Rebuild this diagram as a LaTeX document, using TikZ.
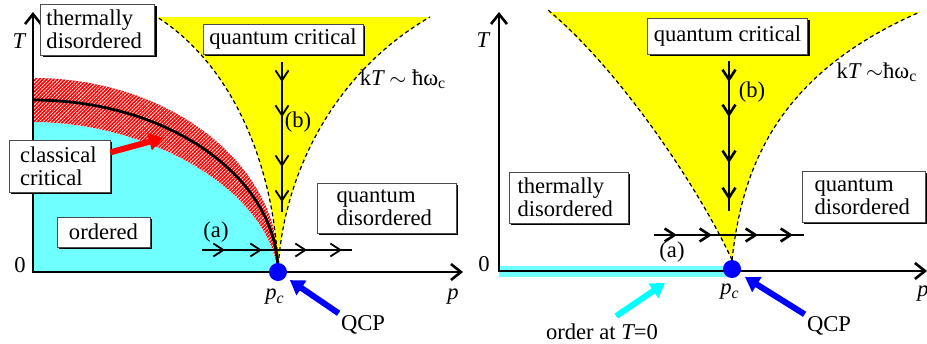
\documentclass[tikz,border=0pt]{standalone}
\usepackage{fontspec}
\setmainfont{Liberation Serif}
\usetikzlibrary{arrows.meta,patterns.meta,shadows}
\definecolor{vilagcian}{RGB}{112,255,255}
\definecolor{cian}{RGB}{0,255,255}
\definecolor{sargaszin}{RGB}{255,255,0}
\definecolor{kekszin}{RGB}{0,0,255}
\definecolor{piros}{RGB}{255,0,0}
\tikzset{
  doboz/.style={draw=black!70,line width=0.5pt,fill=white,inner xsep=3pt,inner ysep=0pt,align=left,
                drop shadow={shadow xshift=1.2pt,shadow yshift=-1.2pt,fill=black,opacity=1}},
  tengely/.style={line width=1.3pt,{Straight Barb[length=5pt,width=8pt]}-{Straight Barb[length=5pt,width=8pt]}},
  folyam/.style={line width=0.9pt},
  hegy/.style={line width=0.9pt,-{Straight Barb[length=5pt,width=6.5pt]}},
  szaggatott/.style={line width=0.6pt,dash pattern=on 2pt off 1.5pt},
  hatar/.style={line width=1.4pt},
  rendezett/.style={fill=vilagcian},
  sarga/.style={fill=sargaszin},
  csikos/.style={pattern={Lines[angle=45,distance=1.3pt,line width=0.85pt]},pattern color=piros},
  pont/.style={circle,fill=kekszin,inner sep=0pt,minimum size=9pt},
  vnyil/.style={line width=3pt,-{Triangle[length=7pt,width=8.5pt]}},
  cimke/.style={inner sep=1pt},
}
\begin{document}
\begin{tikzpicture}[x=0.5pt,y=-0.5pt,font=\fontsize{11.3}{11.5}\selectfont]
  \useasboundingbox (0,0) rectangle (927,343);
  % bal oldali abra
  \fill[rendezett] (33,272) -- (33,122) .. controls (150,122) and (268,190) .. (278,272) -- cycle;
  \fill[white] (33,78) .. controls (175,78) and (284,170) .. (278,272)
    .. controls (268,190) and (150,122) .. (33,122) -- cycle;
  \fill[csikos] (33,78) .. controls (175,78) and (284,170) .. (278,272)
    .. controls (268,190) and (150,122) .. (33,122) -- cycle;
  \fill[sarga] (278,272) .. controls (276,180) and (240,70) .. (157,17) -- (430,17)
    .. controls (330,75) and (282,180) .. (278,272) -- cycle;
  \draw[szaggatott] (278,272) .. controls (276,180) and (240,70) .. (157,17);
  \draw[szaggatott] (278,272) .. controls (282,180) and (330,75) .. (430,17);
  \draw[hatar] (33,100) .. controls (168,100) and (278,177) .. (278,272);
  \draw[tengely] (33,12) -- (33,272) -- (463,272);
  \draw[folyam] (282,62) -- (282,212);
  \foreach \y in {82,117,167,202} \draw[hegy] (282,\y-6) -- (282,\y);
  \draw[folyam] (202,250) -- (352,250);
  \foreach \x in {225,262,307,342} \draw[hegy] (\x-6,250) -- (\x,250);

  \node[cimke] (tL) at (19,41) {\itshape T};
  \node[cimke] (nullaL) at (20,265) {0};
  \node[cimke] (pL) at (453,297) {\itshape p};
  \node[cimke] (pcL) at (275,297) {\itshape p\textsubscript{c}};
  \node[cimke] (aL) at (216,232) {(a)};
  \node[cimke] (bL) at (298,122) {(b)};
  \node[cimke] (ktL) at (403,79) {k{\itshape T} $\sim$ ħω\textsubscript{c}};
  \node[pont] (qcpdotL) at (278,272) {};
  \node[cimke] (qcpL) at (363,325) {QCP};
  \draw[vnyil,kekszin,shorten >=2.5pt] (qcpL.north west) -- (qcpdotL);

  \node[doboz,text width=51pt,minimum height=25.5pt] (termL) at (97.5,29.5) {thermally\\disordered};
  \node[doboz,minimum width=80pt,minimum height=15pt] (kritL) at (283,39) {quantum critical};
  \node[doboz,text width=39.5pt,inner xsep=5.5pt,minimum height=26pt] (klassz) at (59.5,166) {classical\\critical};
  \node[doboz,minimum width=46.5pt,minimum height=15pt] (rend) at (103.5,232) {ordered};
  \node[doboz,text width=50pt,inner xsep=9.75pt,minimum height=25pt] (kvdL) at (386.5,208) {quantum\\disordered};
  \coordinate (savcel) at (163,138);
  \draw[vnyil,piros] (klassz.15) -- (savcel);

  % jobb oldali abra
  \fill[sarga] (732,260) .. controls (700,190) and (620,70) .. (548,12) -- (920,12)
    .. controls (775,75) and (742,170) .. (732,260) -- cycle;
  \draw[szaggatott] (732,260) .. controls (700,190) and (620,70) .. (548,10);
  \draw[szaggatott] (732,260) .. controls (742,170) and (775,75) .. (920,12);
  \draw[vilagcian,line width=5.5pt] (499,271) -- (732,271);
  \draw[tengely] (499,12) -- (499,271) -- (927,271);
  \draw[folyam,line width=1.3pt] (729,61) -- (729,211);
  \foreach \y in {82,117,163,200} \draw[hegy,line width=1.3pt] (729,\y-6) -- (729,\y);
  \draw[folyam,line width=1.3pt] (654,235) -- (804,235);
  \foreach \x in {677,712,758,793} \draw[hegy,line width=1.3pt] (\x-6,235) -- (\x,235);

  \node[cimke] (tR) at (483,40) {\itshape T};
  \node[cimke] (nullaR) at (484,264) {0};
  \node[cimke] (pR) at (923,294) {\itshape p};
  \node[cimke] (pcR) at (730,292) {\itshape p\textsubscript{c}};
  \node[cimke] (aR) at (672,252) {(a)};
  \node[cimke] (bR) at (752,92) {(b)};
  \node[cimke] (ktR) at (877,72) {k{\itshape T} $\sim$ħω\textsubscript{c}};
  \node[pont] (qcpdotR) at (732,269) {};
  \node[cimke] (qcpR) at (829,326) {QCP};
  \draw[vnyil,kekszin,shorten >=3pt] (qcpR.north west) -- (qcpdotR);
  \node[cimke] (rendT) at (602,332) {order at {\itshape T}=0};
  \coordinate (rendcel) at (665,283);
  \draw[vnyil,cian,shorten <=5pt] (rendT.60) -- (rendcel);

  \node[doboz,minimum width=79.5pt,minimum height=18pt] (kritR) at (727.5,36) {quantum critical};
  \node[doboz,text width=51pt,inner xsep=4.25pt,minimum height=25.5pt] (termR) at (568.5,197.5) {thermally\\disordered};
  \node[doboz,text width=49pt,inner xsep=6.25pt,minimum height=25.5pt] (kvdR) at (863.5,196.5) {quantum\\disordered};
\end{tikzpicture}
\end{document}
